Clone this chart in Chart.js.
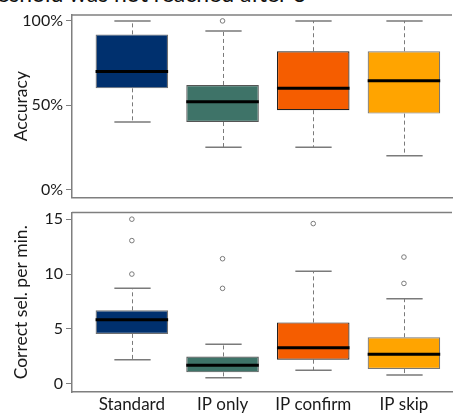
<!DOCTYPE html>
<html>
<head>
<meta charset="utf-8">
<script src="https://cdn.jsdelivr.net/npm/chart.js@4"></script>
<style>
  html, body { margin: 0; padding: 0; background: #fff; overflow: hidden; }
  #wrap { position: relative; width: 457px; height: 414px; overflow: hidden; }
  #title { position: absolute; left: -37px; top: -21px; font: 23px Lato, sans-serif; color: #111; white-space: nowrap; }
  #topBox { position: absolute; left: 0; top: 0; width: 457px; height: 210px; }
  #bottomBox { position: absolute; left: 0; top: 200px; width: 457px; height: 214px; }
</style>
</head>
<body>
<div id="wrap">
  <div id="title">Threshold was not reached after 3</div>
  <div id="topBox"><canvas id="accChart"></canvas></div>
  <div id="bottomBox"><canvas id="selChart"></canvas></div>
</div>
<script>
const categories = ["Standard", "IP only", "IP confirm", "IP skip"];
const boxColors = ["#00306e", "#3e7368", "#f55d00", "#ffa400"];
const boxBorders = ["#6f6f6f", "#555555", "#222222", "#777777"];

// accuracy (%)
const accMin = [40, 25, 25, 20];
const accQ1 = [60, 40, 47, 45];
const accMed = [70, 52, 60, 64.5];
const accQ3 = [92, 62, 82, 82];
const accMax = [100, 94, 100, 100];
const accOutliers = [[], [100], [], []];
const accTicks = [0, 50, 100];

// correct selections per minute
const selMin = [2.2, 0.55, 1.25, 0.8];
const selQ1 = [4.55, 1.05, 2.2, 1.35];
const selMed = [5.85, 1.7, 3.3, 2.7];
const selQ3 = [6.7, 2.5, 5.6, 4.25];
const selMax = [8.7, 3.6, 10.25, 7.75];
const selOutliers = [[15, 13.05, 10], [11.4, 8.7], [14.6], [11.55, 9.15]];
const selTicks = [0, 5, 10, 15];

const axisGray = "#7f7f7f";
const textColor = "#1a1a1a";
const font = { family: "Lato", size: 16 };
const labelFont = { family: "Lato", size: 17 };
const titleFont = { family: "Lato", size: 17.5 };

// whiskers, caps, medians and the plot frame
function boxParts(stats) {
    return {
        id: "boxParts",
        beforeDatasetsDraw(chart) {
            const ctx = chart.ctx;
            const x = chart.scales.x;
            const y = chart.scales.y;
            ctx.save();
            ctx.strokeStyle = "#7a7a7a";
            ctx.lineWidth = 1;
            for (let i = 0; i < categories.length; i++) {
                const cx = Math.round(x.getPixelForValue(i + 1)) + 0.5;
                const cap = x.getPixelForValue(i + 1.2) - x.getPixelForValue(i + 1);
                ctx.setLineDash([4, 3]);
                ctx.beginPath();
                ctx.moveTo(cx, y.getPixelForValue(stats.q3[i]));
                ctx.lineTo(cx, y.getPixelForValue(stats.max[i]));
                ctx.moveTo(cx, y.getPixelForValue(stats.q1[i]));
                ctx.lineTo(cx, y.getPixelForValue(stats.min[i]));
                ctx.stroke();
                ctx.setLineDash([]);
                ctx.lineWidth = 1.5;
                ctx.beginPath();
                ctx.moveTo(cx - cap, y.getPixelForValue(stats.max[i]));
                ctx.lineTo(cx + cap, y.getPixelForValue(stats.max[i]));
                ctx.moveTo(cx - cap, y.getPixelForValue(stats.min[i]));
                ctx.lineTo(cx + cap, y.getPixelForValue(stats.min[i]));
                ctx.stroke();
                ctx.lineWidth = 1;
            }
            ctx.restore();
        },
        afterDatasetsDraw(chart) {
            const ctx = chart.ctx;
            const x = chart.scales.x;
            const y = chart.scales.y;
            const area = chart.chartArea;
            ctx.save();
            ctx.strokeStyle = "#000";
            ctx.lineWidth = 3;
            for (let i = 0; i < categories.length; i++) {
                const my = y.getPixelForValue(stats.med[i]);
                ctx.beginPath();
                ctx.moveTo(x.getPixelForValue(i + 0.6), my);
                ctx.lineTo(x.getPixelForValue(i + 1.4), my);
                ctx.stroke();
            }
            ctx.strokeStyle = axisGray;
            ctx.lineWidth = 1.5;
            ctx.beginPath();
            ctx.moveTo(area.left, area.top);
            ctx.lineTo(area.right, area.top);
            ctx.stroke();
            ctx.restore();
        }
    };
}

function makeChart(id, stats, outliers, yMin, yMax, yTicks, yTitle, suffix, showLabels, padTop, xHeight) {
    const boxes = categories.map((c, i) => ({ x: i + 1, y: [stats.q1[i], stats.q3[i]] }));
    const points = [];
    outliers.forEach((list, i) => list.forEach(v => points.push({ x: i + 1, y: v })));

    return new Chart(document.getElementById(id), {
        type: "bar",
        data: {
            datasets: [{
                type: "bar",
                data: boxes,
                backgroundColor: boxColors,
                borderColor: boxBorders,
                borderWidth: 1.2,
                borderSkipped: false,
                categoryPercentage: 0.8,
                barPercentage: 1
            }, {
                type: "scatter",
                data: points,
                pointRadius: 2.3,
                pointBorderWidth: 1,
                pointBorderColor: "#7a7a7a",
                pointBackgroundColor: "#fff"
            }]
        },
        options: {
            responsive: true,
            maintainAspectRatio: false,
            animation: false,
            events: [],
            layout: { padding: { top: padTop, left: 0, right: 0, bottom: 0 } },
            plugins: { legend: { display: false }, tooltip: { enabled: false } },
            scales: {
                x: {
                    type: "linear",
                    offset: false,
                    min: 0.34,
                    max: 4.53,
                    afterBuildTicks: (scale) => { scale.ticks = categories.map((c, i) => ({ value: i + 1 })); },
                    afterFit: (scale) => { scale.height = xHeight; },
                    grid: { display: false, drawTicks: false },
                    border: { display: true, color: axisGray, width: 1.5 },
                    ticks: {
                        display: showLabels,
                        padding: 2,
                        maxRotation: 0,
                        autoSkip: false,
                        color: textColor,
                        font: labelFont,
                        callback: (v) => categories[v - 1]
                    }
                },
                y: {
                    min: yMin,
                    max: yMax,
                    afterBuildTicks: (scale) => { scale.ticks = yTicks.map(v => ({ value: v })); },
                    afterFit: (scale) => { scale.width = 72; },
                    grid: { display: true, drawOnChartArea: false, drawTicks: true, tickLength: 6, color: axisGray, lineWidth: 1 },
                    border: { display: true, color: axisGray, width: 1.5 },
                    ticks: {
                        padding: 3,
                        color: textColor,
                        font: font,
                        callback: (v) => v + suffix
                    },
                    title: {
                        display: true,
                        text: yTitle,
                        color: textColor,
                        font: titleFont,
                        padding: { top: 11, bottom: 0 }
                    }
                }
            }
        },
        plugins: [boxParts(stats)]
    });
}

makeChart("accChart",
    { min: accMin, q1: accQ1, med: accMed, q3: accQ3, max: accMax },
    accOutliers, -4.7, 103.5, accTicks, "Accuracy", "%", false, 15, 10);

makeChart("selChart",
    { min: selMin, q1: selQ1, med: selMed, q3: selQ3, max: selMax },
    selOutliers, -0.74, 15.6, selTicks, "Correct sel. per min.", "", true, 8, 22);
</script>
</body>
</html>
